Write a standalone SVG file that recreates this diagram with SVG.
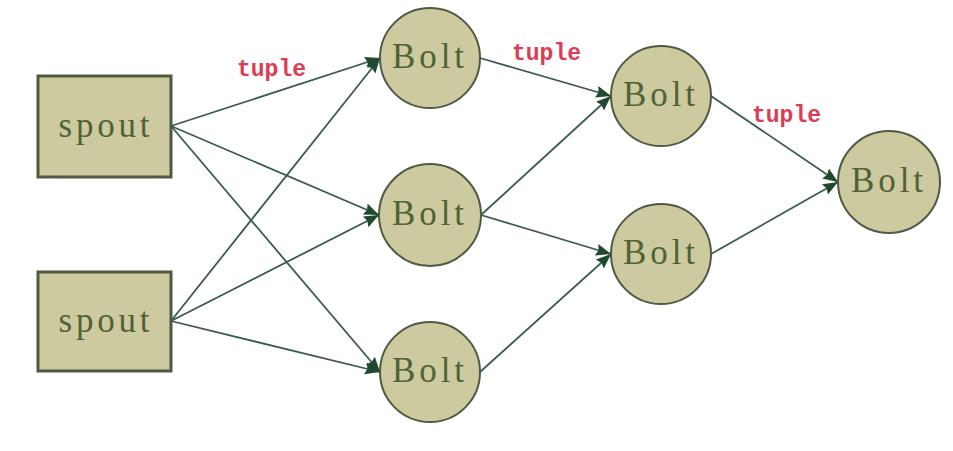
<svg xmlns="http://www.w3.org/2000/svg" width="953" height="451" viewBox="0 0 953 451">
<defs>
<style>
.box{fill:#ceca9f;stroke:#4e5a44;stroke-width:3}
.bolt{fill:#ceca9f;stroke:#4e5a44;stroke-width:2}
.lbl{font-family:"Liberation Serif",serif;font-size:35px;fill:#4f6335;text-anchor:middle}
.tup{font-family:"Liberation Mono",monospace;font-size:23px;font-weight:bold;fill:#de3b55}
.edge{stroke:#3d5a50;stroke-width:1.8;fill:none;marker-end:url(#ah)}
</style>
<marker id="ah" markerUnits="userSpaceOnUse" markerWidth="16" markerHeight="14" refX="15" refY="7" orient="auto">
<path d="M0,1 L15,7 L0,13 L2,7 Z" fill="#1f4a30"/>
</marker>
</defs>
<rect width="953" height="451" fill="#ffffff"/>
<g id="connectors">
<line class="edge" x1="171" y1="126" x2="380" y2="58"/>
<line class="edge" x1="171" y1="126" x2="379" y2="215"/>
<line class="edge" x1="171" y1="126" x2="380" y2="372"/>
<line class="edge" x1="171" y1="321" x2="380" y2="58"/>
<line class="edge" x1="171" y1="321" x2="379" y2="215"/>
<line class="edge" x1="171" y1="321" x2="380" y2="372"/>
<line class="edge" x1="480" y1="58" x2="611" y2="96"/>
<line class="edge" x1="481" y1="215" x2="611" y2="96"/>
<line class="edge" x1="481" y1="215" x2="611" y2="254"/>
<line class="edge" x1="480" y1="372" x2="611" y2="254"/>
<line class="edge" x1="711" y1="96" x2="838" y2="182"/>
<line class="edge" x1="711" y1="254" x2="838" y2="182"/>
<text class="tup" x="237" y="76">tuple</text>
<text class="tup" x="512" y="60">tuple</text>
<text class="tup" x="752" y="122">tuple</text>
</g>
<g id="spout1"><rect class="box" x="38" y="76" width="133" height="101"/><text class="lbl" x="104" y="137" textLength="91" lengthAdjust="spacing">spout</text></g>
<g id="spout2"><rect class="box" x="38" y="272" width="133" height="99"/><text class="lbl" x="104" y="332" textLength="91" lengthAdjust="spacing">spout</text></g>
<g id="bolt1"><circle class="bolt" cx="430" cy="58" r="50"/><text class="lbl" x="428" y="68" textLength="72" lengthAdjust="spacing">Bolt</text></g>
<g id="bolt2"><circle class="bolt" cx="430" cy="215" r="51"/><text class="lbl" x="428" y="225" textLength="72" lengthAdjust="spacing">Bolt</text></g>
<g id="bolt3"><circle class="bolt" cx="430" cy="372" r="50"/><text class="lbl" x="428" y="382" textLength="72" lengthAdjust="spacing">Bolt</text></g>
<g id="bolt4"><circle class="bolt" cx="661" cy="96" r="50"/><text class="lbl" x="659" y="106" textLength="72" lengthAdjust="spacing">Bolt</text></g>
<g id="bolt5"><circle class="bolt" cx="661" cy="254" r="50"/><text class="lbl" x="659" y="264" textLength="72" lengthAdjust="spacing">Bolt</text></g>
<g id="bolt6"><circle class="bolt" cx="889" cy="182" r="51"/><text class="lbl" x="887" y="192" textLength="72" lengthAdjust="spacing">Bolt</text></g>
</svg>
